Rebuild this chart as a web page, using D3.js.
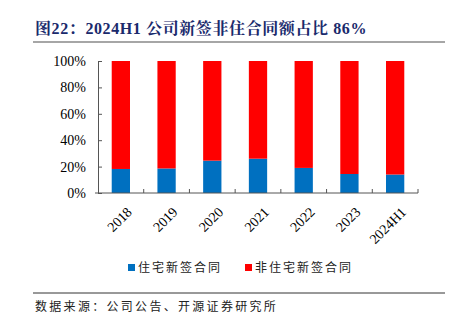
<!DOCTYPE html>
<html>
<head>
<meta charset="utf-8">
<script src="https://cdn.jsdelivr.net/npm/d3@7"></script>
<style>
  body { margin: 0; background: #fff; }
  svg { display: block; }
</style>
</head>
<body>
<script>
let years = ["2018", "2019", "2020", "2021", "2022", "2023", "2024H1"]
let residential = [18.2, 18.6, 24.5, 26, 19, 14.4, 14]
let nonResidential = residential.map(v => 100 - v)
let yTicks = [0, 20, 40, 60, 80, 100]
let seriesNames = ["住宅新签合同", "非住宅新签合同"]
let colors = ["#0070c0", "#ff0000"]

const width = 454
const height = 324
const serif = "'Liberation Serif', 'Times New Roman', serif"
const cjk = "'Noto Sans CJK SC', sans-serif"

let svg = d3.select("body").append("svg")
    .attr("width", width)
    .attr("height", height)

// title
svg.append("text")
    .attr("x", 35).attr("y", 34)
    .attr("fill", "#1a2a6c")
    .style("font-family", "'Liberation Serif', 'Noto Serif CJK SC', " + cjk)
    .style("font-weight", "bold")
    .style("font-size", "16px")
    .style("letter-spacing", "0.6px")
    .text("图22：2024H1 公司新签非住合同额占比 86%")

svg.append("line")
    .attr("x1", 33).attr("x2", 445).attr("y1", 42).attr("y2", 42)
    .attr("stroke", "#888").attr("stroke-width", 1.5)

let x = d3.scaleBand().domain(years).range([98, 418]).paddingInner(0.6).paddingOuter(0.3)
let y = d3.scaleLinear().domain([0, 100]).range([193, 61])

let table = years.map((yr, i) => ({ year: yr, res: residential[i], non: nonResidential[i] }))
let stack = d3.stack().keys(["res", "non"])(table)

svg.selectAll("g.series")
    .data(stack).enter()
    .append("g")
    .attr("fill", (d, i) => colors[i])
    .selectAll("rect")
    .data(d => d).enter()
    .append("rect")
    .attr("x", d => x(d.data.year))
    .attr("width", x.bandwidth())
    .attr("y", d => y(d[1]))
    .attr("height", d => y(d[0]) - y(d[1]))

// y axis
let yAxis = svg.append("g")
    .attr("transform", "translate(98,0)")
    .call(d3.axisLeft(y).tickValues(yTicks).tickSize(-4).tickPadding(12).tickFormat(d => d + "%"))
yAxis.select(".domain").attr("stroke", "#555")
yAxis.selectAll(".tick line").attr("stroke", "#555")
yAxis.selectAll("text")
    .style("font-family", serif).style("font-size", "14px").attr("fill", "#000")

// x axis with ticks at category boundaries
let xAxis = svg.append("g").attr("transform", "translate(0,193)")
xAxis.append("line")
    .attr("x1", 95).attr("x2", 418)
    .attr("stroke", "#555")
let step = x.step()
let bounds = d3.range(1, years.length + 1).map(i => 98 + i * step)
xAxis.selectAll("line.tk")
    .data(bounds).enter()
    .append("line")
    .attr("class", "tk")
    .attr("x1", d => d).attr("x2", d => d)
    .attr("y1", 0).attr("y2", -4)
    .attr("stroke", "#555")

xAxis.selectAll("text")
    .data(years).enter()
    .append("text")
    .attr("transform", d => "translate(" + (x(d) + x.bandwidth() / 2 + 5) + ",13) rotate(-45)")
    .attr("text-anchor", "end")
    .attr("dy", "0.7em")
    .style("font-family", serif).style("font-size", "14px")
    .text(d => d)

// legend
let legendX = [128, 245]
let legend = svg.selectAll("g.legend")
    .data(seriesNames).enter()
    .append("g")
    .attr("transform", (d, i) => "translate(" + legendX[i] + ",270)")
legend.append("rect")
    .attr("x", 0).attr("y", -6).attr("width", 7).attr("height", 7)
    .attr("fill", (d, i) => colors[i])
legend.append("text")
    .attr("x", 10).attr("y", 2)
    .style("font-family", cjk).style("font-size", "12px")
    .style("letter-spacing", "2px")
    .attr("fill", "#222")
    .text(d => d)

svg.append("line")
    .attr("x1", 33).attr("x2", 445).attr("y1", 293).attr("y2", 293)
    .attr("stroke", "#333").attr("stroke-width", 1)

svg.append("text")
    .attr("x", 35).attr("y", 311)
    .style("font-family", cjk).style("font-size", "12px")
    .style("letter-spacing", "2.3px")
    .attr("fill", "#222")
    .text("数据来源：公司公告、开源证券研究所")
</script>
</body>
</html>
